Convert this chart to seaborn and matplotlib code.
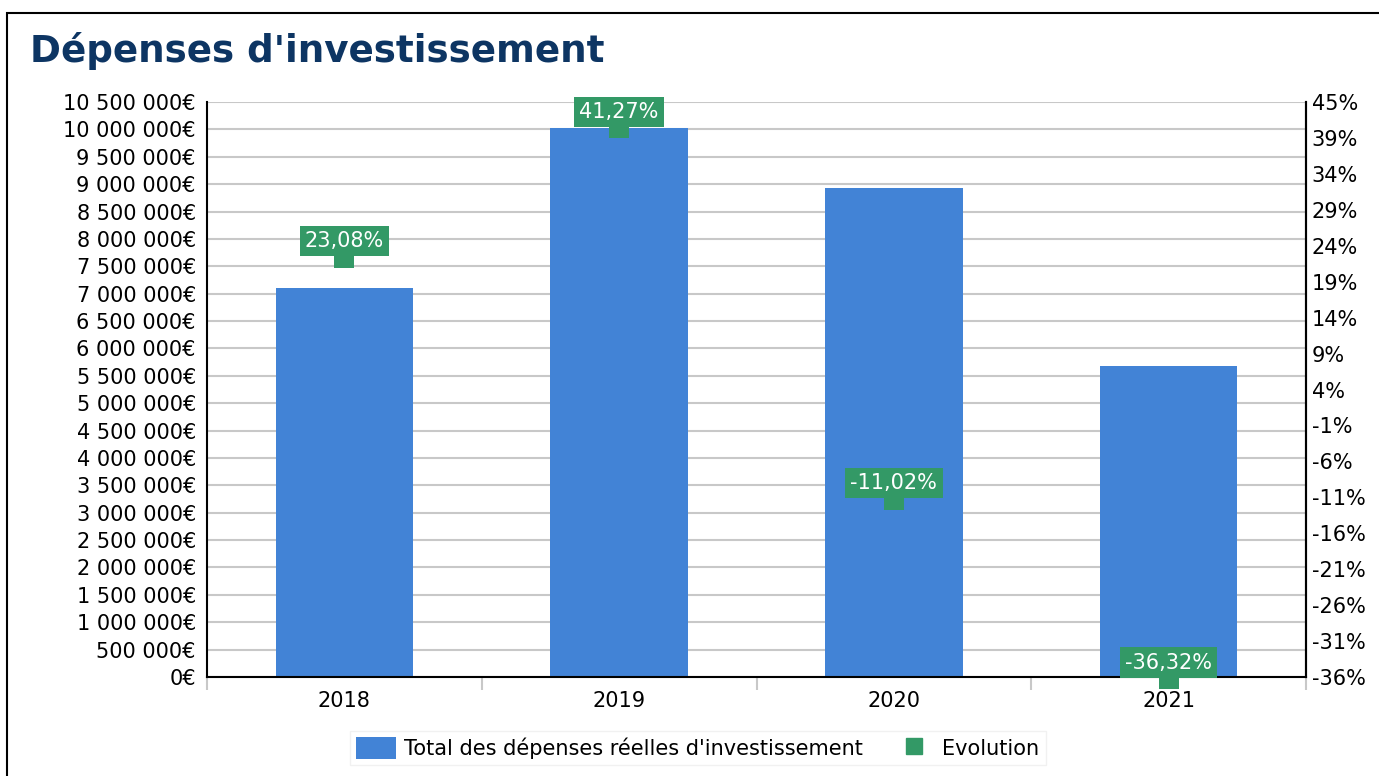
import numpy as np
import pandas as pd
import seaborn as sns
import matplotlib.pyplot as plt
from matplotlib.patches import Rectangle, Patch
from matplotlib.lines import Line2D
from matplotlib.ticker import FuncFormatter

# values
years = ['2018', '2019', '2020', '2021']
depenses = [7103000, 10034000, 8928000, 5685000]
evolution = [23.08, 41.27, -11.02, -36.32]

bar_color = '#4283d6'
green = '#339966'
title_color = '#0d3563'

df = pd.DataFrame({'annee': years, 'depenses': depenses, 'evolution': evolution})

sns.set_style('white')
plt.rcParams['font.family'] = ['DejaVu Sans']
plt.rcParams['text.color'] = 'black'
plt.rcParams['xtick.color'] = 'black'
plt.rcParams['ytick.color'] = 'black'

fig = plt.figure(figsize=(13.79, 7.76), dpi=100)
ax = fig.add_axes([207 / 1379, 1 - 677 / 776, (1306 - 207) / 1379, (677 - 102) / 776])

# frame around the whole figure
fig.patches.append(Rectangle((7 / 1379, -0.1), 1.2, 1 - 13 / 776 + 0.1, transform=fig.transFigure,
                             fill=False, edgecolor='black', linewidth=1.5))

sns.barplot(data=df, x='annee', y='depenses', color=bar_color, width=0.5, saturation=1,
            linewidth=0, ax=ax, zorder=2)
ax.set_xlim(-0.5, 3.5)
ax.set_ylim(0, 10500000)
ax.set_yticks(np.arange(0, 10500001, 500000))
ax.yaxis.set_major_formatter(FuncFormatter(lambda v, p: f'{int(v):,}'.replace(',', ' ') + '€'))
ax.yaxis.grid(True, color='#c8c8c8', linewidth=1.5, zorder=0)
ax.set_axisbelow(True)
ax.set_xlabel('')
ax.set_ylabel('')
ax.tick_params(axis='y', length=0, pad=8, labelsize=15, labelcolor='black')
ax.tick_params(axis='x', which='major', length=0, pad=10, labelsize=15, labelcolor='black')
# small separators between the years
ax.set_xticks(np.arange(-0.5, 4, 1), minor=True)
ax.tick_params(axis='x', which='minor', bottom=True, length=9, color='#c8c8c8', width=1.5)
for s in ['left', 'bottom', 'right']:
    ax.spines[s].set_color('black')
    ax.spines[s].set_linewidth(1.5)
ax.spines['top'].set_visible(False)

ax2 = ax.twinx()
ax2.set_ylim(-36, 45)
ax2.set_yticks(np.linspace(-36, 45, 17))
ax2.yaxis.set_major_formatter(FuncFormatter(lambda v, p: f'{int(np.floor(v + 1e-9))}%'))
ax2.tick_params(axis='y', length=0, pad=4, labelsize=15, labelcolor='black')
ax2.scatter(np.arange(len(years)), evolution, marker='s', s=190, color=green, zorder=3,
            clip_on=False, linewidths=0)
for i, v in enumerate(evolution):
    ax2.annotate(f'{v:.2f}%'.replace('.', ','), (i, v), xytext=(0, 12), textcoords='offset points',
                 ha='center', va='center', color='white', fontsize=15, zorder=4, annotation_clip=False,
                 bbox=dict(boxstyle='square,pad=0.25', facecolor=green, edgecolor='none'))
for s in ['top', 'left', 'bottom']:
    ax2.spines[s].set_visible(False)
ax2.spines['right'].set_color('black')
ax2.spines['right'].set_linewidth(1.5)

fig.text(30 / 1379, 1 - 51 / 776, "Dépenses d'investissement", fontsize=26.8, fontweight='bold',
         color=title_color, va='center', ha='left')

handles = [Patch(facecolor=bar_color, edgecolor='none'),
           Line2D([], [], marker='s', linestyle='none', color=green, markersize=11)]
leg = fig.legend(handles, ["Total des dépenses réelles d'investissement", 'Evolution'],
                 loc='center', bbox_to_anchor=(698 / 1379, 1 - 748 / 776), ncol=2, frameon=True,
                 fontsize=15, fancybox=False, handlelength=1.9, handleheight=1.2,
                 columnspacing=1.5, handletextpad=0.4, borderpad=0.3)
leg.get_frame().set_edgecolor('#eeeeee')
leg.get_frame().set_linewidth(1)

fig.savefig('out.png', dpi=100)
